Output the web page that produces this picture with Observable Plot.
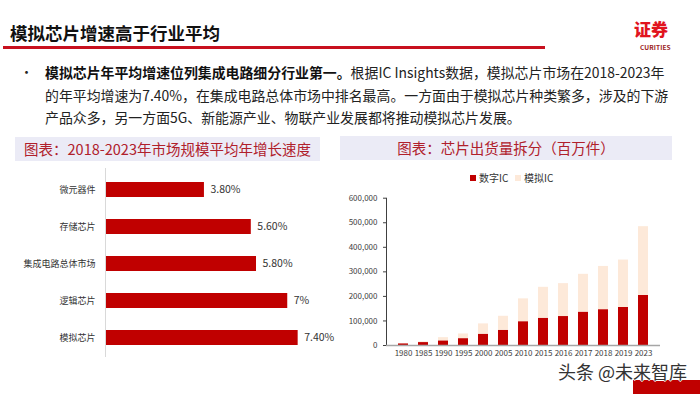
<!DOCTYPE html>
<html>
<head>
<meta charset="utf-8">
<script src="https://cdn.jsdelivr.net/npm/d3@7"></script>
<script src="https://cdn.jsdelivr.net/npm/@observablehq/plot@0.6"></script>
<style>
  html, body { margin: 0; padding: 0; background: #fff; }
  body { width: 700px; height: 394px; position: relative; overflow: hidden; font-family: "Noto Sans CJK SC", "Noto Sans", sans-serif; }
  .abs { position: absolute; }
  #title { left: 10px; top: 20px; font-size: 17.5px; font-weight: 700; color: #111; white-space: nowrap; line-height: 26px; }
  #titleRule { left: 3px; top: 46px; width: 542px; height: 3px; background: #c8101e; }
  #logo { left: 634px; top: 17px; font-size: 17px; font-weight: 900; color: #e1141e; line-height: 24px; white-space: nowrap; }
  #logoSub { left: 640px; top: 42px; font-size: 6.5px; font-weight: 700; color: #9b1c22; letter-spacing: 0.1px; white-space: nowrap; }
  #bullet { left: 20px; top: 61px; font-size: 13px; line-height: 22.5px; color: #222; }
  #para { left: 45px; top: 61px; font-size: 13.9px; line-height: 22.5px; color: #222; white-space: nowrap; }
  #para b { font-weight: 700; color: #111; }
  .hdr { background: #ebebf6; color: #b0202b; font-size: 14.5px; text-align: center; line-height: 24px; height: 24px; white-space: nowrap; }
  #hdrL { left: 15px; top: 137px; width: 305px; }
  #hdrR { left: 340px; top: 136px; width: 332px; }
  #legend { left: 470px; top: 171px; font-size: 10px; color: #333; white-space: nowrap; line-height: 14px; }
  #legend .sw { display: inline-block; width: 6px; height: 6px; margin-right: 3px; vertical-align: 1px; }
  #wm { left: 558px; top: 359px; font-size: 18px; color: #333; white-space: nowrap; line-height: 24px;
        text-shadow: 1px 0 #fff, -1px 0 #fff, 0 1px #fff, 0 -1px #fff; z-index: 5; }
  #redBox { left: 633px; top: 380px; width: 67px; height: 14px; background: #c00000; }
</style>
</head>
<body>
<div id="title" class="abs">模拟芯片增速高于行业平均</div>
<div id="titleRule" class="abs"></div>
<div id="logo" class="abs">证券</div>
<div id="logoSub" class="abs">CURITIES</div>
<div id="bullet" class="abs">•</div>
<div id="para" class="abs"><b>模拟芯片年平均增速位列集成电路细分行业第一。</b>根据IC Insights数据，模拟芯片市场在2018-2023年<br>的年平均增速为7.40%，在集成电路总体市场中排名最高。一方面由于模拟芯片种类繁多，涉及的下游<br>产品众多，另一方面5G、新能源产业、物联产业发展都将推动模拟芯片发展。</div>
<div id="hdrL" class="abs hdr">图表：2018-2023年市场规模平均年增长速度</div>
<div id="hdrR" class="abs hdr">图表：芯片出货量拆分（百万件）</div>
<div id="legend" class="abs"><span class="sw" style="background:#c00000"></span>数字IC&nbsp;&nbsp;&nbsp;<span class="sw" style="background:#fde9d9"></span>模拟IC</div>
<div id="leftChart" class="abs" style="left:0px;top:155px;"></div>
<div id="rightChart" class="abs" style="left:340px;top:185px;"></div>
<div id="wm" class="abs">头条 @未来智库</div>
<div id="redBox" class="abs"></div>
<script>
// ---- Left chart data: 2018-2023 average annual growth ----
const segments = ["微元器件", "存储芯片", "集成电路总体市场", "逻辑芯片", "模拟芯片"];
const growthRates = [3.8, 5.6, 5.8, 7.0, 7.4];
const growthLabels = ["3.80%", "5.60%", "5.80%", "7%", "7.40%"];

// ---- Right chart data: chip shipments (million units) ----
const years = ["1980", "1985", "1990", "1995", "2000", "2005", "2010", "2015", "2016", "2017", "2018", "2019", "2023"];
const digitalIC = [7000, 12000, 19000, 28000, 46000, 62000, 97000, 111000, 118000, 136000, 146000, 155000, 204000];
const analogIC = [1000, 3000, 13000, 19000, 42000, 57000, 93000, 126000, 134000, 154000, 176000, 193000, 280000];
const seriesNames = ["数字IC", "模拟IC"];
const yTicks = [0, 100000, 200000, 300000, 400000, 500000, 600000];

const font = '"Noto Sans CJK SC", "Noto Sans", sans-serif';

const growth = segments.map((s, i) => ({seg: s, v: growthRates[i], label: growthLabels[i]}));

const left = Plot.plot({
  width: 330, height: 215,
  marginLeft: 105, marginRight: 3.7, marginTop: 4, marginBottom: 3,
  style: {fontFamily: font, fontSize: "9px", color: "#333", background: "transparent", overflow: "visible"},
  x: {domain: [0, 8.5], axis: null},
  y: {domain: segments, padding: 0.6, label: null, tickSize: 0, tickPadding: 10},
  marks: [
    Plot.barX(growth, {x: "v", y: "seg", fill: "#c00000"}),
    Plot.ruleX([0], {stroke: "#d9d9d9", insetTop: 9, insetBottom: 10}),
    Plot.text(growth, {x: "v", y: "seg", text: "label", textAnchor: "start", dx: 6, fontSize: 10.5, fill: "#333"})
  ]
});
document.getElementById("leftChart").appendChild(left);

const rows = [];
seriesNames.forEach((name, si) => {
  const vals = si === 0 ? digitalIC : analogIC;
  years.forEach((y, i) => rows.push({year: y, series: name, value: vals[i]}));
});

const right = Plot.plot({
  width: 330, height: 180,
  marginLeft: 46, marginRight: 10, marginTop: 12.7, marginBottom: 20,
  style: {fontFamily: font, fontSize: "8px", color: "#404040", background: "transparent", overflow: "visible"},
  x: {domain: years, padding: 0.48, label: null, tickSize: 0, tickPadding: 5},
  y: {domain: [0, 600000], ticks: yTicks, tickFormat: d3.format(","), label: null, tickSize: 3, tickPadding: 6, line: true},
  color: {domain: seriesNames, range: ["#c00000", "#fde9d9"]},
  marks: [
    Plot.barY(rows, {x: "year", y: "value", fill: "series"}),
    Plot.ruleY([0], {stroke: "#a6a6a6", strokeWidth: 1.5})
  ]
});
document.getElementById("rightChart").appendChild(right);
</script>
</body>
</html>
